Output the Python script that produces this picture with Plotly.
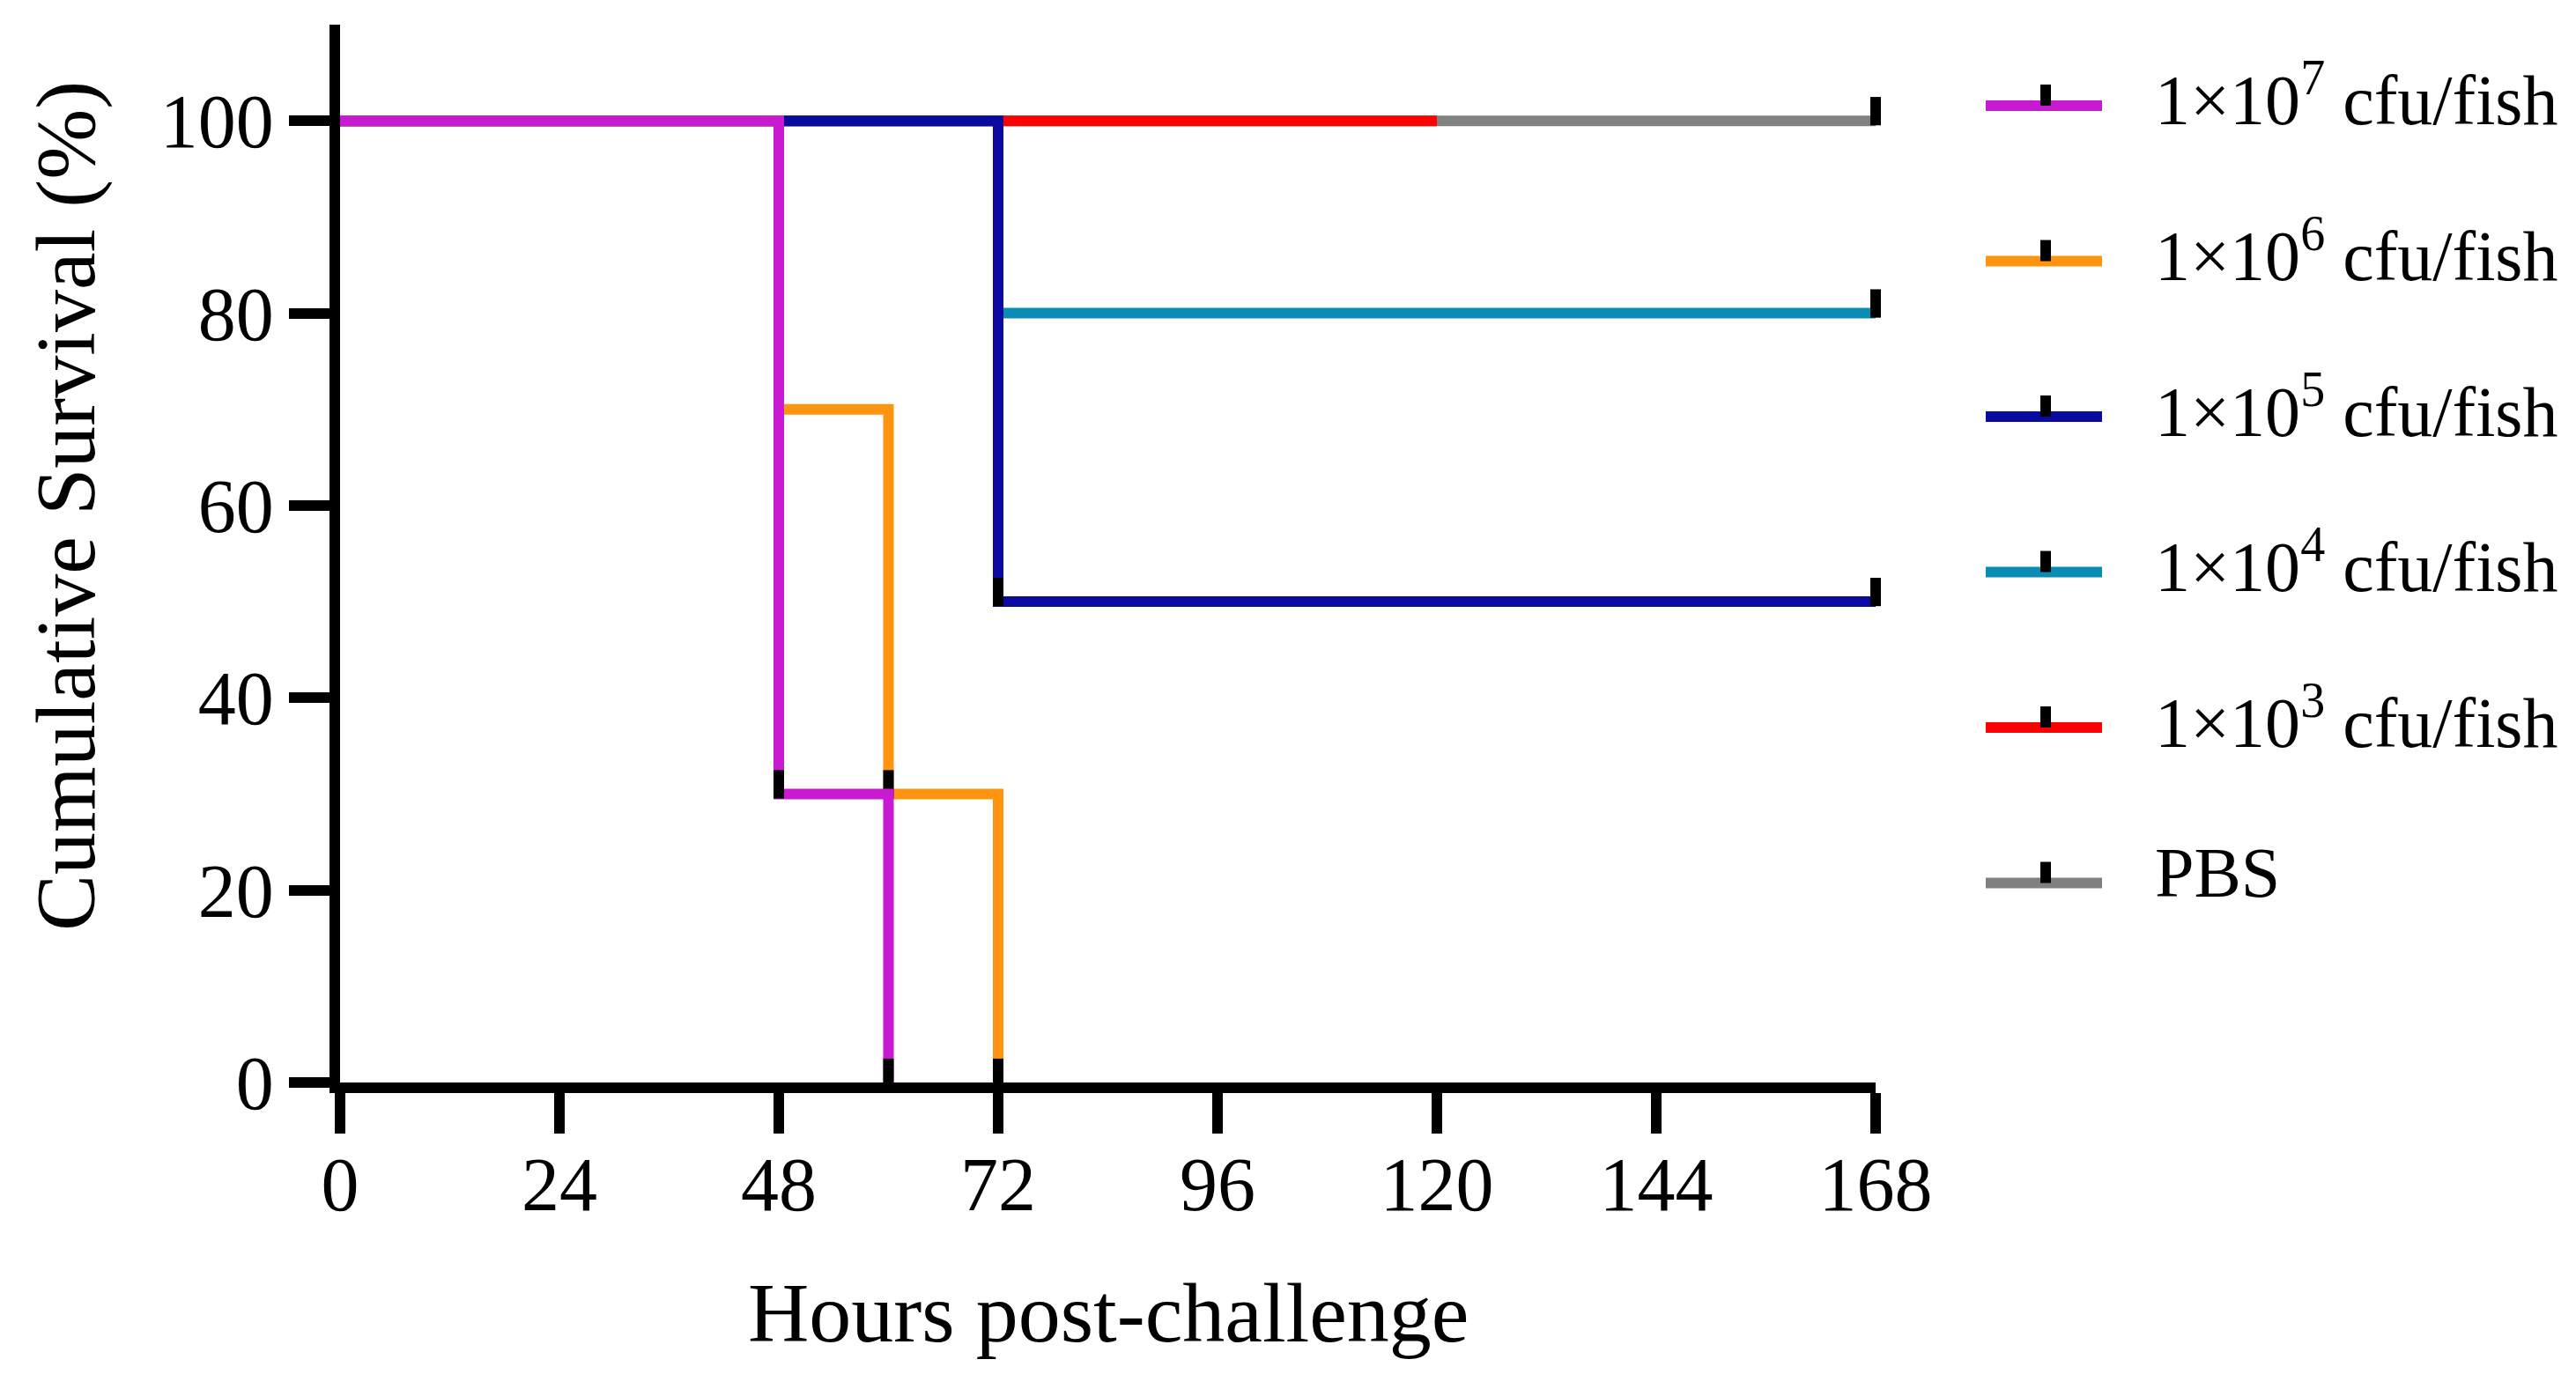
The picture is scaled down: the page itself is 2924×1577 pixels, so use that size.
import plotly.graph_objects as go

# survival curves (hours, % survival)
labels = ["1×10<sup>7</sup> cfu/fish", "1×10<sup>6</sup> cfu/fish", "1×10<sup>5</sup> cfu/fish",
          "1×10<sup>4</sup> cfu/fish", "1×10<sup>3</sup> cfu/fish", "PBS"]
colors = ["#C81AD0", "#FF9410", "#0A0AA0", "#0A8CB4", "#FF0000", "#808080"]

hours_1e7 = [0, 48, 60]
surv_1e7 = [100, 30, 0]
hours_1e6 = [0, 48, 60, 72]
surv_1e6 = [100, 70, 30, 0]
hours_1e5 = [0, 72, 168]
surv_1e5 = [100, 50, 50]
hours_1e4 = [0, 72, 168]
surv_1e4 = [100, 80, 80]
hours_1e3 = [0, 120]
surv_1e3 = [100, 100]
hours_pbs = [0, 168]
surv_pbs = [100, 100]

series = [
    (hours_1e7, surv_1e7, True),
    (hours_1e6, surv_1e6, True),
    (hours_1e5, surv_1e5, True),
    (hours_1e4, surv_1e4, True),
    (hours_1e3, surv_1e3, False),
    (hours_pbs, surv_pbs, True),
]

x_ticks = [0, 24, 48, 72, 96, 120, 144, 168]
y_ticks = [0, 20, 40, 60, 80, 100]

W, H = 2924, 1577
L, R, T, B = 378, 2121, 20, 1221
Y_MAX = 110
FONT = "Liberation Serif"

# tick symbols sit just above the curve (pixel lift converted to % units)
lift = 11 * Y_MAX / (B - T)

fig = go.Figure()

# draw bottom-up so the upper curves sit on top (PBS first)
for i in reversed(range(len(series))):
    xs, ys, ticks = series[i]
    fig.add_trace(go.Scatter(
        x=xs, y=ys, mode="lines", line_shape="hv",
        line=dict(color=colors[i], width=12),
        cliponaxis=False, showlegend=False, hoverinfo="skip",
    ))
    if ticks:
        fig.add_trace(go.Scatter(
            x=xs[1:], y=[v + lift for v in ys[1:]], mode="markers",
            marker=dict(symbol="line-ns", size=23, color="black",
                        line=dict(color="black", width=12)),
            cliponaxis=False, showlegend=False, hoverinfo="skip",
        ))


def px_x(p):
    return (p - L) / (R - L)


def px_y(p):
    return (B - p) / (B - T)


# hand-drawn legend (long swatches with a tick mark)
shapes = []
annotations = []
for i, lab in enumerate(labels):
    yc = 100 + 176.5 * i
    yl = yc + 12
    shapes.append(dict(type="line", xref="paper", yref="paper",
                       x0=px_x(2246), x1=px_x(2378), y0=px_y(yl), y1=px_y(yl),
                       line=dict(color=colors[i], width=12)))
    shapes.append(dict(type="line", xref="paper", yref="paper",
                       x0=px_x(2314), x1=px_x(2314), y0=px_y(yl), y1=px_y(yl - 24),
                       line=dict(color="black", width=12)))
    annotations.append(dict(text=lab, xref="paper", yref="paper",
                            x=px_x(2436), y=px_y(yc), xanchor="left", yanchor="middle",
                            showarrow=False, font=dict(family=FONT, size=80, color="black")))

# axis titles
annotations.append(dict(text="Hours post-challenge", xref="paper", yref="paper",
                        x=px_x(1250), y=px_y(1482), xanchor="center", yanchor="middle",
                        showarrow=False, font=dict(family=FONT, size=96, color="black")))
annotations.append(dict(text="Cumulative Survival (%)", xref="paper", yref="paper",
                        x=px_x(66), y=px_y(567), xanchor="center", yanchor="middle",
                        textangle=-90, showarrow=False,
                        font=dict(family=FONT, size=96, color="black")))

fig.update_layout(
    width=W, height=H,
    margin=dict(l=L, r=W - R, t=T, b=H - B),
    paper_bgcolor="white", plot_bgcolor="white",
    font=dict(family=FONT, color="black"),
    shapes=shapes, annotations=annotations,
)
fig.update_xaxes(
    range=[0, 168], tickvals=x_ticks, ticks="outside", ticklen=46, tickwidth=12,
    tickcolor="black", showline=True, linecolor="black", linewidth=12,
    showgrid=False, zeroline=False, tickfont=dict(family=FONT, size=86),
    ticklabelstandoff=-16,
)
fig.update_yaxes(
    range=[0, Y_MAX], tickvals=y_ticks, ticks="outside", ticklen=46, tickwidth=12,
    tickcolor="black", showline=True, linecolor="black", linewidth=12,
    showgrid=False, zeroline=False, tickfont=dict(family=FONT, size=86),
)

fig.write_html("out.html")
